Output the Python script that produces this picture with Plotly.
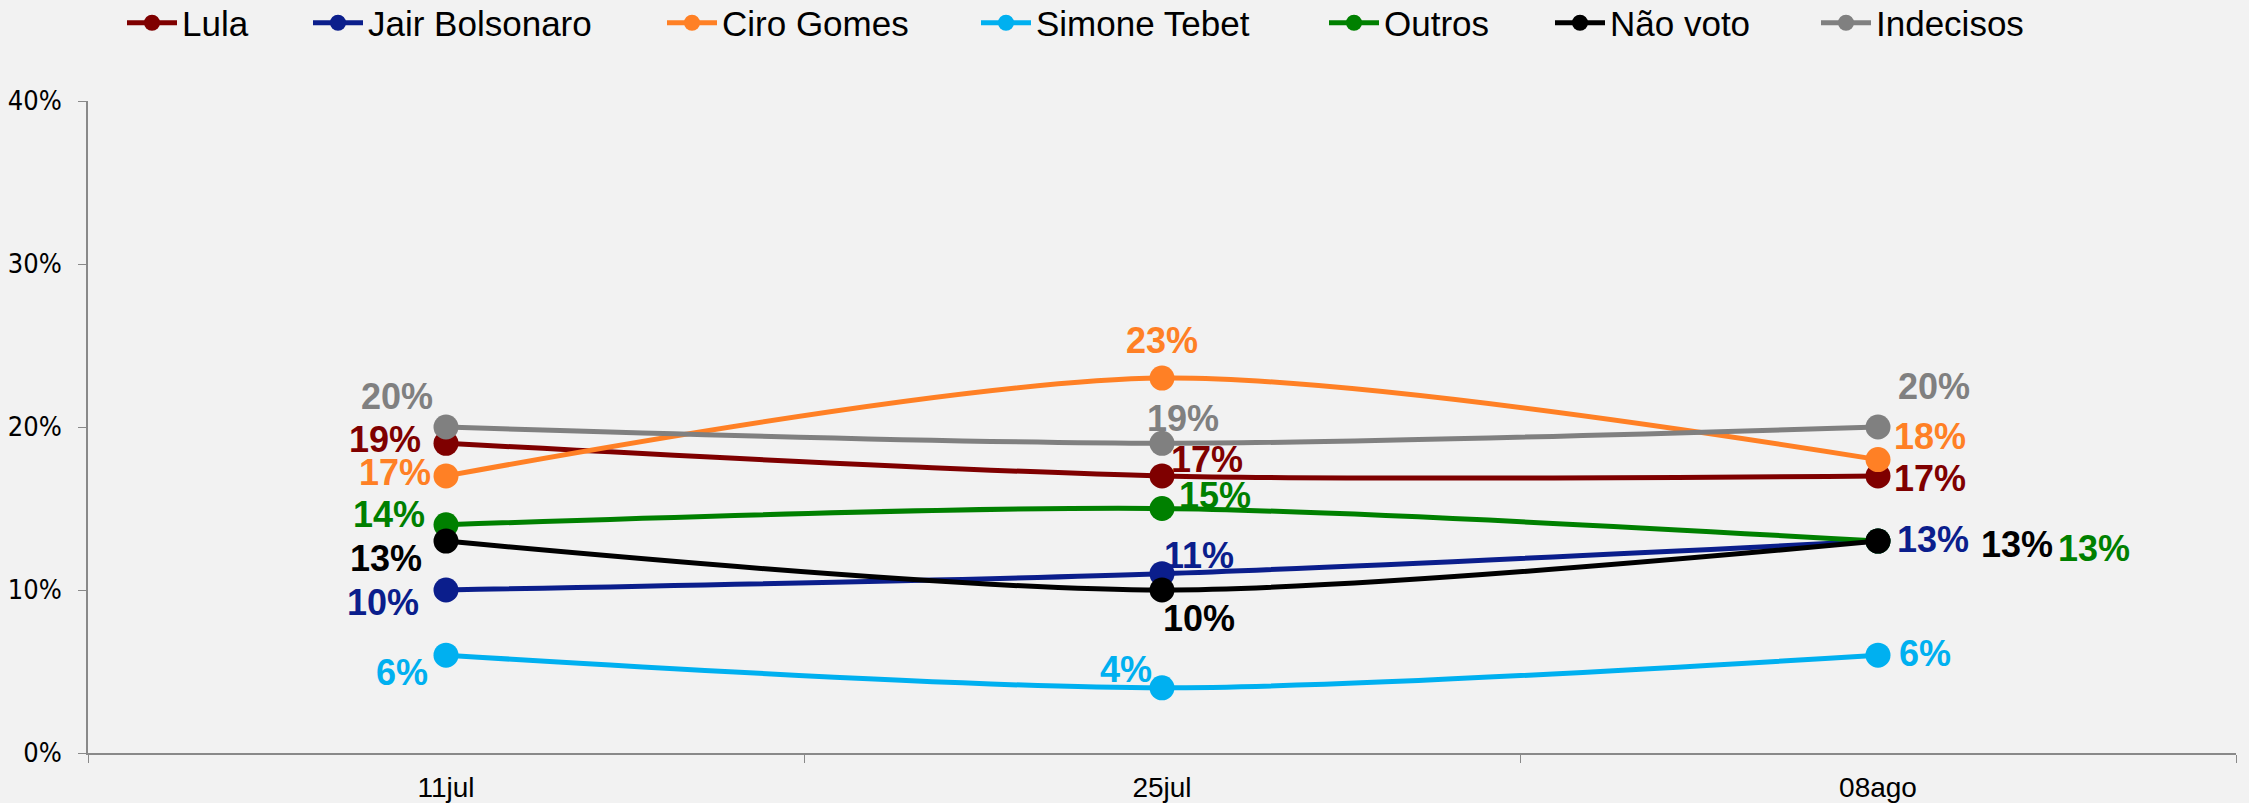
import plotly.graph_objects as go

# data (percent)
dates = ['11jul', '25jul', '08ago']
lula = [19, 17, 17]
bolsonaro = [10, 11, 13]
ciro = [17, 23, 18]
tebet = [6, 4, 6]
outros = [14, 15, 13]
nao_voto = [13, 10, 13]
indecisos = [20, 19, 20]

series = [
    ('Lula', lula, '#7f0000'),
    ('Jair Bolsonaro', bolsonaro, '#0b1e8c'),
    ('Ciro Gomes', ciro, '#ff8025'),
    ('Simone Tebet', tebet, '#00b0f0'),
    ('Outros', outros, '#008000'),
    ('Não voto', nao_voto, '#000000'),
    ('Indecisos', indecisos, '#808080'),
]

# label offsets in px (dx right, dy down) per point, to mimic the manual label placement
label_offsets = {
    'Lula': [(-61, -4), (45, -16), (52, 3)],
    'Jair Bolsonaro': [(-63, 12), (37, -18), (55, -2)],
    'Ciro Gomes': [(-51, -3), (0, -38), (52, -23)],
    'Simone Tebet': [(-44, 17), (-36, -18), (47, -2)],
    'Outros': [(-57, -10), (53, -13), (216, 7)],
    'Não voto': [(-60, 17), (37, 28), (139, 3)],
    'Indecisos': [(-49, -31), (21, -25), (56, -41)],
}

# legend marker centres (px from left) - each entry gets its own legend box
legend_px = [151, 337, 691, 1005, 1353, 1579, 1845]

W, H = 2249, 803
BG = '#f2f2f2'
AXIS = '#898989'
FONT = 'Liberation Sans, Arial, sans-serif'

fig = go.Figure()
annotations = []
legends = {}
for i, (name, vals, color) in enumerate(series):
    lg = 'legend' if i == 0 else f'legend{i + 1}'
    fig.add_trace(go.Scatter(
        x=dates, y=vals, name=name, legend=lg,
        mode='lines+markers',
        line=dict(color=color, width=5, shape='spline', smoothing=0.8),
        marker=dict(color=color, size=25),
        hoverinfo='name+y',
    ))
    legends[lg] = dict(
        orientation='h',
        xref='container', x=(legend_px[i] - 29) / W, xanchor='left',
        yref='container', y=1 - 23 / H, yanchor='middle',
        font=dict(family=FONT, size=35, color='#000000'),
        itemwidth=50, bgcolor='rgba(0,0,0,0)',
    )
    for d, v, (dx, dy) in zip(dates, vals, label_offsets[name]):
        annotations.append(dict(
            x=d, y=v, text=f'{v}%', showarrow=False,
            xshift=dx, yshift=-dy,
            xanchor='center', yanchor='middle',
            font=dict(family=FONT, size=36, color=color, weight='bold'),
        ))

fig.update_layout(
    width=W, height=H,
    paper_bgcolor=BG, plot_bgcolor=BG,
    margin=dict(l=88, r=13, t=101, b=50, autoexpand=False),
    font=dict(family=FONT, color='#000000'),
    annotations=annotations,
    showlegend=True,
    xaxis=dict(
        type='category', range=[-0.5, 2.5], automargin=False,
        showline=True, linecolor=AXIS, linewidth=2,
        ticks='outside', tickson='boundaries', ticklen=8, tickcolor=AXIS,
        showgrid=False, zeroline=False,
        tickfont=dict(family=FONT, size=28, color='#000000'),
        ticklabelstandoff=8,
    ),
    yaxis=dict(
        range=[0, 40], dtick=10, ticksuffix='%', automargin=False,
        showline=True, linecolor=AXIS, linewidth=1.5,
        ticks='outside', ticklen=8, tickcolor=AXIS,
        showgrid=False, zeroline=False,
        tickfont=dict(family='DejaVu Sans Condensed, DejaVu Sans, sans-serif', size=27, color='#000000'),
        ticklabelstandoff=11,
    ),
)
fig.update_layout(**legends)

# drop the default page margin so the figure sits at the window origin
fig.write_html('out.html', config={'displayModeBar': False},
               post_script="document.body.style.margin='0';document.body.style.overflow='hidden';")
